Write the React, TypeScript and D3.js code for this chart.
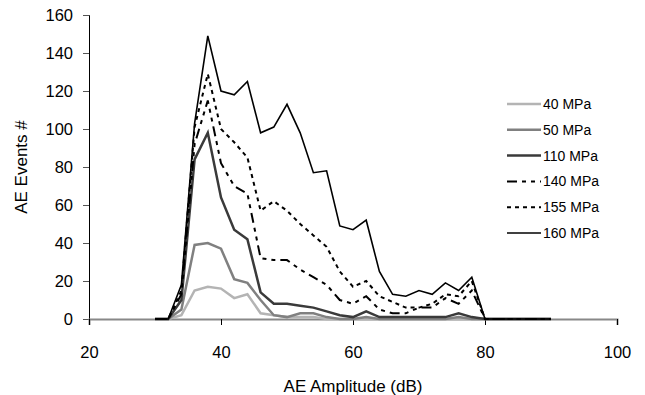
import { useEffect, useRef } from 'react';
import * as d3 from 'd3';

// AE amplitude bins (dB)
const amplitude = [30, 32, 34, 36, 38, 40, 42, 44, 46, 48, 50, 52, 54, 56, 58, 60, 62, 64, 66, 68, 70, 72, 74, 76, 78, 80, 82, 84, 86, 88, 90];

// AE event counts per load level
const mpa40 = [0, 0, 2, 15, 17, 16, 11, 13, 3, 2, 1, 1, 1, 0, 0, 0, 0, 0, 0, 0, 0, 0, 0, 0, 0, 0, 0, 0, 0, 0, 0];
const mpa50 = [0, 0, 5, 39, 40, 37, 21, 19, 10, 2, 1, 3, 3, 1, 0, 0, 1, 0, 0, 0, 0, 0, 0, 1, 0, 0, 0, 0, 0, 0, 0];
const mpa110 = [0, 0, 10, 84, 98, 64, 47, 42, 14, 8, 8, 7, 6, 4, 2, 1, 4, 1, 1, 1, 1, 1, 1, 3, 1, 0, 0, 0, 0, 0, 0];
const mpa140 = [0, 0, 13, 92, 115, 82, 70, 66, 32, 31, 31, 26, 22, 18, 10, 8, 12, 5, 3, 3, 6, 6, 11, 8, 15, 0, 0, 0, 0, 0, 0];
const mpa155 = [0, 0, 15, 101, 129, 100, 93, 85, 57, 62, 57, 50, 44, 38, 25, 17, 20, 12, 9, 6, 6, 8, 13, 12, 20, 0, 0, 0, 0, 0, 0];
const mpa160 = [0, 0, 18, 103, 149, 120, 118, 125, 98, 101, 113, 98, 77, 78, 49, 47, 52, 25, 13, 12, 15, 13, 19, 15, 22, 0, 0, 0, 0, 0, 0];

const seriesNames = ['40 MPa', '50 MPa', '110 MPa', '140 MPa', '155 MPa', '160 MPa'];
const seriesValues = [mpa40, mpa50, mpa110, mpa140, mpa155, mpa160];

const xTicks = [20, 40, 60, 80, 100];
const yTicks = [0, 20, 40, 60, 80, 100, 120, 140, 160];

// line looks, same order as the series
const lineStyles = [
  { color: '#b4b4b4', width: 2.5, dash: null },
  { color: '#808080', width: 2.5, dash: null },
  { color: '#3a3a3a', width: 2.5, dash: null },
  { color: '#000000', width: 2, dash: '10,5,4,5,4,5' },
  { color: '#000000', width: 2, dash: '4,4' },
  { color: '#000000', width: 1.6, dash: null },
];

const W = 645;
const H = 395;
const FONT = '"Liberation Sans", Arial, sans-serif';

const App = () => {
  const ref = useRef<SVGSVGElement>(null);

  useEffect(() => {
    const svg = d3.select(ref.current);
    svg.selectAll('*').remove();

    const x = d3.scaleLinear().domain([20, 100]).range([89, 617]);
    const y = d3.scaleLinear().domain([0, 160]).range([319, 15]);

    // y axis
    const yAxis = svg
      .append('g')
      .attr('transform', `translate(${x(20)},0)`)
      .call(d3.axisLeft(y).tickValues(yTicks).tickSizeOuter(0).tickSize(6).tickPadding(10));
    yAxis.select('.domain').attr('stroke', '#000').attr('stroke-width', 1);
    yAxis.selectAll('.tick line').attr('stroke', '#555');
    yAxis.selectAll('text').attr('font-family', FONT).attr('font-size', 16.5).attr('fill', '#000');

    const line = d3
      .line<number>()
      .x((d, i) => x(amplitude[i]))
      .y(d => y(d));

    // x axis
    const xAxis = svg
      .append('g')
      .attr('transform', `translate(0,${y(0)})`)
      .call(d3.axisBottom(x).tickValues(xTicks).tickSizeOuter(0).tickSize(6).tickPadding(21));
    xAxis.select('.domain').attr('stroke', '#888').attr('stroke-width', 2);
    xAxis.selectAll('.tick line').attr('stroke', '#000');
    xAxis.selectAll('text').attr('font-family', FONT).attr('font-size', 16.5).attr('fill', '#000');

    // series lines
    seriesValues.forEach((vals, i) => {
      const st = lineStyles[i];
      svg
        .append('path')
        .datum(vals)
        .attr('d', line)
        .attr('fill', 'none')
        .attr('stroke', st.color)
        .attr('stroke-width', st.width)
        .attr('stroke-dasharray', st.dash)
        .attr('stroke-linejoin', 'miter');
    });

    // titles
    svg
      .append('text')
      .attr('x', (x(20) + x(100)) / 2)
      .attr('y', 392)
      .attr('text-anchor', 'middle')
      .attr('font-family', FONT)
      .attr('font-size', 17)
      .text('AE Amplitude (dB)');

    svg
      .append('text')
      .attr('transform', `translate(27,${(y(0) + y(160)) / 2}) rotate(-90)`)
      .attr('text-anchor', 'middle')
      .attr('font-family', FONT)
      .attr('font-size', 17)
      .text('AE Events #');

    // legend
    const leg = svg
      .selectAll('g.leg')
      .data(seriesNames)
      .enter()
      .append('g')
      .attr('class', 'leg')
      .attr('transform', (d, i) => `translate(507,${104 + i * 25.8})`);
    leg
      .append('line')
      .attr('x1', 0)
      .attr('x2', 34)
      .attr('stroke', (d, i) => lineStyles[i].color)
      .attr('stroke-width', (d, i) => lineStyles[i].width)
      .attr('stroke-dasharray', (d, i) => lineStyles[i].dash);
    leg
      .append('text')
      .attr('x', 36)
      .attr('dy', '0.35em')
      .attr('font-family', FONT)
      .attr('font-size', 14)
      .text(d => d);
  }, []);

  return (
    <div>
      <svg
        ref={ref}
        width={W}
        height={H}
        style={{ position: 'absolute', left: 0, top: 0, background: '#fff' }}
      />
    </div>
  );
};

export default App;
